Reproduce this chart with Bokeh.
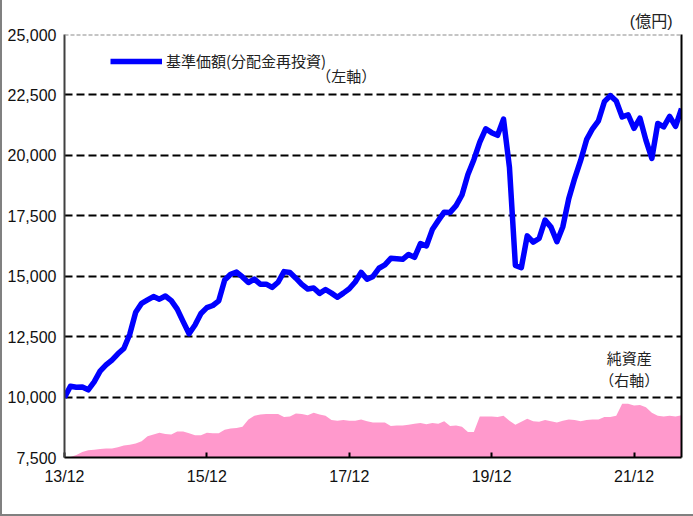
from bokeh.plotting import figure
from bokeh.models import Range1d, LinearAxis, FixedTicker, Label, Legend, LegendItem, Span, NumeralTickFormatter
from bokeh.embed import file_html
from bokeh.resources import INLINE

# 基準価額（分配金再投資） monthly, 2013/12 .. 2022/08
nav = [9980, 10450, 10410, 10420, 10300, 10630, 11070, 11330, 11530, 11790,
       12010, 12600, 13510, 13880, 14020, 14160, 14050, 14180, 13990, 13640,
       13120, 12620, 12980, 13460, 13700, 13790, 13980, 14840, 15080, 15170,
       14970, 14740, 14880, 14670, 14670, 14540, 14750, 15190, 15150, 14920,
       14660, 14470, 14510, 14290, 14450, 14300, 14130, 14300, 14480, 14760,
       15160, 14875, 14990, 15330, 15470, 15740, 15720, 15700, 15900, 15780,
       16350, 16250, 16930, 17300, 17650, 17640, 17920, 18360, 19210, 19820,
       20550, 21100, 20940, 20830, 21500, 19500, 15450, 15350, 16670, 16410,
       16560, 17320, 17030, 16430, 17050, 18210, 19050, 19790, 20650, 21100,
       21430, 22220, 22470, 22250, 21590, 21680, 21120, 21540, 20630, 19870,
       21320, 21180, 21610, 21200, 21930]

# 純資産（億円）
assets = [0, 1, 4, 9, 12, 13, 14, 15, 15, 17,
          20, 21, 23, 27, 35, 38, 41, 39, 38, 43,
          43, 40, 37, 37, 41, 40, 40, 46, 48, 49,
          51, 63, 69, 71, 72, 72, 72, 67, 68, 73,
          72, 70, 74, 71, 69, 62, 61, 62, 61, 61,
          63, 60, 58, 58, 58, 52, 53, 53, 54, 56,
          57, 55, 57, 56, 60, 52, 53, 51, 42, 42,
          68, 68, 68, 67, 69, 61, 54, 59, 64, 60,
          59, 62, 60, 58, 61, 63, 62, 60, 62, 63,
          63, 67, 67, 69, 89, 89, 86, 87, 83, 74,
          69, 68, 69, 68, 70]

months = list(range(len(nav)))
tick_positions = [0, 24, 48, 72, 96]
tick_labels = ["13/12", "15/12", "17/12", "19/12", "21/12"]
left_ticks = [7500, 10000, 12500, 15000, 17500, 20000, 22500, 25000]
grid_ticks = [10000, 12500, 15000, 17500, 20000, 22500]

JP = "Noto Sans CJK JP"
NUM = "Liberation Sans"

p = figure(width=693, height=516, output_backend="svg", toolbar_location=None,
           x_range=Range1d(0, len(nav) - 1), y_range=Range1d(7500, 25000),
           min_border_left=64, min_border_right=12, min_border_top=34, min_border_bottom=59)
p.styles = {"box-shadow": "inset 2px -2px 0 0 #808080", "background-color": "white"}
p.border_fill_color = None
p.background_fill_color = "white"
p.outline_line_color = None

# unit caption at top right
p.title.text = "(億円)"
p.title.align = "right"
p.title.offset = 9
p.title.standoff = 9
p.title.text_font = "Liberation Sans, Noto Sans CJK JP"
p.title.text_font_size = "16px"
p.title.text_font_style = "normal"
p.title.text_color = "#222222"

p.extra_y_ranges = {"assets": Range1d(0, 700)}

# left axis
ya = p.yaxis[0]
ya.ticker = FixedTicker(ticks=left_ticks)
ya.formatter = NumeralTickFormatter(format="0,0")
ya.major_label_text_font = NUM
ya.major_label_text_font_size = "16px"
ya.major_label_text_color = "#111111"
ya.major_tick_out = 0
ya.major_tick_in = 0
ya.minor_tick_line_color = None
ya.axis_line_color = "#404040"
ya.axis_line_width = 2
ya.major_label_standoff = 8

# bottom axis
xa = p.xaxis[0]
xa.ticker = FixedTicker(ticks=tick_positions)
xa.major_label_overrides = {t: l for t, l in zip(tick_positions, tick_labels)}
xa.major_label_text_font = NUM
xa.major_label_text_font_size = "16px"
xa.major_label_text_color = "#111111"
xa.major_tick_in = 5
xa.major_tick_out = 0
xa.major_tick_line_width = 2
xa.major_tick_line_color = "black"
xa.minor_tick_line_color = None
xa.axis_line_color = "black"
xa.axis_line_width = 2
xa.major_label_standoff = 10

# right axis (net assets)
ra = LinearAxis(y_range_name="assets", ticker=FixedTicker(ticks=[]),
                axis_line_color="black", axis_line_width=2,
                major_tick_line_color=None, minor_tick_line_color=None)
p.add_layout(ra, "right")

p.xgrid.visible = False
p.ygrid.ticker = FixedTicker(ticks=grid_ticks)
p.ygrid.grid_line_color = "black"
p.ygrid.grid_line_dash = "8 4"
p.ygrid.grid_line_width = 2

p.add_layout(Span(location=25000, dimension="width", line_color="#8c8c8c", line_dash="4 2", line_width=2))

p.varea(x=months, y1=[0] * len(assets), y2=assets, y_range_name="assets", fill_color="#FF99CC")
r_line = p.line(months, nav, line_color="#0000FF", line_width=5.5, line_join="round")

legend = Legend(items=[LegendItem(label="基準価額(分配金再投資)", renderers=[r_line])],
                location=(46, 386), glyph_width=52, glyph_height=16, label_height=16,
                label_text_font=JP, label_text_font_size="15px", label_text_color="#222222",
                background_fill_alpha=0, border_line_color=None, padding=0, margin=0,
                label_standoff=4)
p.add_layout(legend)

def lab(x, y, t, align="center"):
    p.add_layout(Label(x=x, y=y, text=t, text_align=align, text_baseline="middle",
                       text_font=JP, text_font_size="15px", text_color="#222222"))

lab(47.5, 23306, "（左軸）")
lab(95.2, 11627, "純資産")
lab(95.2, 10719, "（右軸）")

open("out.html", "w").write(file_html(p, INLINE))
